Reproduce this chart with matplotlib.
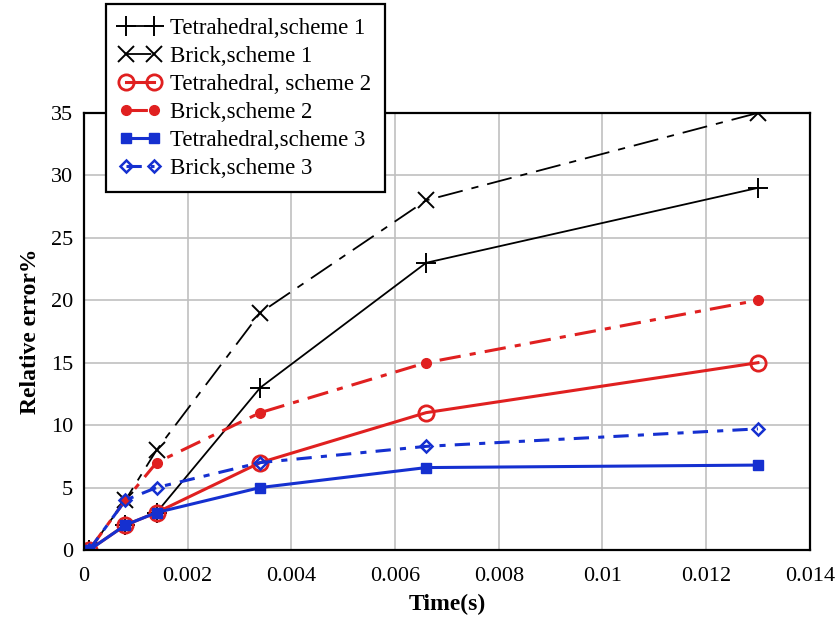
import matplotlib
matplotlib.use("Agg")
import matplotlib.pyplot as plt

plt.rcParams['font.family'] = ['Liberation Serif', 'DejaVu Serif']

# data
time_s = [0.0001, 0.0008, 0.0014, 0.0034, 0.0066, 0.013]
tet_s1 = [0, 2, 3, 13, 23, 29]
brick_s1 = [0, 4, 8, 19, 28, 35]
tet_s2 = [0, 2, 3, 7, 11, 15]
brick_s2 = [0, 4, 7, 11, 15, 20]
tet_s3 = [0, 2, 3, 5, 6.6, 6.8]
brick_s3 = [0, 4, 5, 7, 8.3, 9.7]

xticks = [0, 0.002, 0.004, 0.006, 0.008, 0.01, 0.012, 0.014]
xticklabels = ['0', '0.002', '0.004', '0.006', '0.008', '0.01', '0.012', '0.014']
yticks = [0, 5, 10, 15, 20, 25, 30, 35]

fig = plt.figure(figsize=(8.4, 6.24), dpi=100)
ax = fig.add_axes([0.1, 0.1186, 0.864, 0.7004])

ax.plot(time_s, tet_s1, color='black', lw=1.3, marker='+', ms=14, mew=1.4,
        label='Tetrahedral,scheme 1')
ax.plot(time_s, brick_s1, color='black', lw=1.3, marker='x', ms=11, mew=1.4,
        dashes=(14, 5, 4, 5), label='Brick,scheme 1')
ax.plot(time_s, tet_s2, color='#e02020', lw=2.2, marker='o', ms=11, mew=2,
        mfc='none', label='Tetrahedral, scheme 2')
ax.plot(time_s, brick_s2, color='#e02020', lw=2.2, marker='o', ms=7,
        dashes=(7, 3, 2, 3), label='Brick,scheme 2')
ax.plot(time_s, tet_s3, color='#1530d0', lw=2.2, marker='s', ms=7,
        label='Tetrahedral,scheme 3')
ax.plot(time_s, brick_s3, color='#1530d0', lw=2.2, marker='D', ms=6, mew=1.8,
        mfc='none', dashes=(5, 3, 2, 3), label='Brick,scheme 3')

ax.set_xlim(0, 0.014)
ax.set_ylim(0, 35)
ax.set_xticks(xticks)
ax.set_xticklabels(xticklabels)
ax.set_yticks(yticks)
ax.tick_params(axis='x', labelsize=16, length=0, pad=12)
ax.tick_params(axis='y', labelsize=16, length=0, pad=8)
ax.grid(True, color='#c0c0c0', lw=1.2)
for s in ax.spines.values():
    s.set_linewidth(1.6)

ax.set_xlabel('Time(s)', fontsize=17, fontweight='bold', labelpad=6)
ax.set_ylabel('Relative error%', fontsize=17, fontweight='bold', labelpad=7)

leg = fig.legend(loc='upper left', bbox_to_anchor=(0.126, 0.993), fontsize=16.5,
                 fancybox=False, framealpha=1, edgecolor='black', numpoints=2,
                 handlelength=1.8, labelspacing=0.3, borderpad=0.6,
                 handletextpad=0.4, borderaxespad=0)
leg.get_frame().set_linewidth(1.6)

fig.savefig('out.png', dpi=100)
